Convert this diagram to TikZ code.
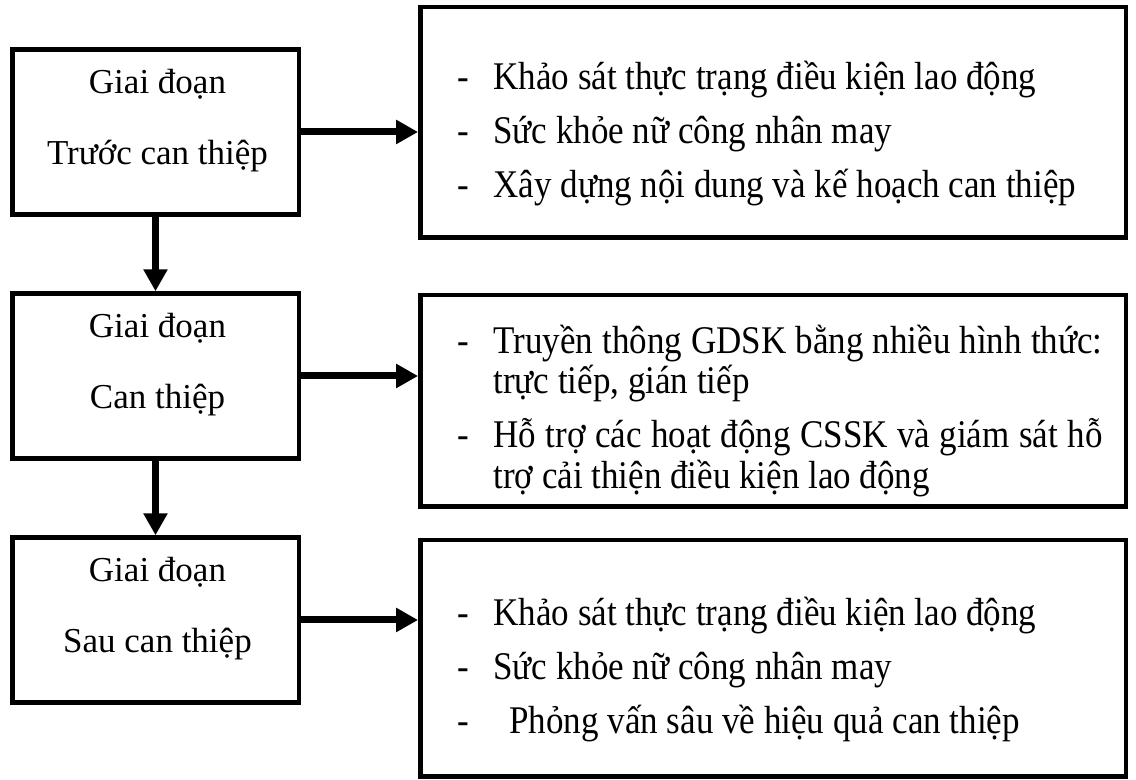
\documentclass[tikz,border=0pt]{standalone}
\usepackage{fontspec}
\setmainfont{Liberation Serif}
\usetikzlibrary{arrows.meta, positioning}

\newcommand{\itm}[1]{\par\hangindent=18pt\hangafter=1\noindent\makebox[18pt][l]{-}#1}
\newcommand{\rlist}[1]{\scalebox{1}[1.12]{\parbox[t]{322.5pt}{\fontsize{17.5}{18}\selectfont\parskip=6.3pt #1}}}

\begin{document}
\begin{tikzpicture}[
  line width=2.25pt,
  lbox/.style={rectangle, draw, outer sep=0pt, inner sep=0pt, minimum width=143.25pt, minimum height=82.5pt},
  rbox/.style={rectangle, draw, outer sep=0pt, inner sep=0pt, minimum width=352.75pt},
  ltxt/.style={anchor=base, inner sep=0pt, font=\fontsize{17.5}{35.5}\selectfont},
  rtxt/.style={anchor=base west, inner sep=0pt},
  arr/.style={-{Triangle[length=11pt, width=11.5pt]}, line width=3.5pt, shorten >=1.1pt}
]
\useasboundingbox (0,0) rectangle (568pt,390pt);
\node[lbox] (l1) at (77.75pt,324pt) {};
\node[lbox, below=39.5pt of l1] (l2) {};
\node[lbox, below=39.5pt of l2] (l3) {};
\node[rbox, minimum height=115.25pt, right=60.75pt of l1, yshift=4.75pt] (r1) {};
\node[rbox, minimum height=105.75pt, right=60.75pt of l2, yshift=-12.5pt] (r2) {};
\node[rbox, minimum height=118.25pt, right=60.75pt of l3, yshift=-19.25pt] (r3) {};

\node[ltxt] (l1t) at ([xshift=1pt, yshift=-21.9pt]l1.north) {\parbox[t]{140pt}{\centering Giai đoạn\\Trước can thiệp}};
\node[ltxt] (l2t) at ([xshift=1pt, yshift=-21.9pt]l2.north) {\parbox[t]{140pt}{\centering Giai đoạn\\Can thiệp}};
\node[ltxt] (l3t) at ([xshift=1pt, yshift=-21.9pt]l3.north) {\parbox[t]{140pt}{\centering Giai đoạn\\Sau can thiệp}};

\node[rtxt] (r1t) at ([xshift=17.5pt, yshift=-40.9pt]r1.north west) {\rlist{%
  \itm{Khảo sát thực trạng điều kiện lao động}
  \itm{Sức khỏe nữ công nhân may}
  \itm{Xây dựng nội dung và kế hoạch can thiệp}}};
\node[rtxt] (r2t) at ([xshift=17.5pt, yshift=-28.9pt]r2.north west) {\rlist{%
  \itm{Truyền thông GDSK bằng nhiều hình thức:\linebreak trực tiếp, gián tiếp}
  \itm{Hỗ trợ các hoạt động CSSK và giám sát hỗ\linebreak trợ cải thiện điều kiện lao động}}};
\node[rtxt] (r3t) at ([xshift=17.5pt, yshift=-42.4pt]r3.north west) {\rlist{%
  \itm{Khảo sát thực trạng điều kiện lao động}
  \itm{Sức khỏe nữ công nhân may}
  \itm{\hspace{8pt}Phỏng vấn sâu về hiệu quả can thiệp}}};

\draw[arr] (l1) -- (l1 -| r1.west);
\draw[arr] (l2) -- (l2 -| r2.west);
\draw[arr] (l3) -- (l3 -| r3.west);
\draw[arr] (l1) -- (l2);
\draw[arr] (l2) -- (l3);
\end{tikzpicture}
\end{document}
